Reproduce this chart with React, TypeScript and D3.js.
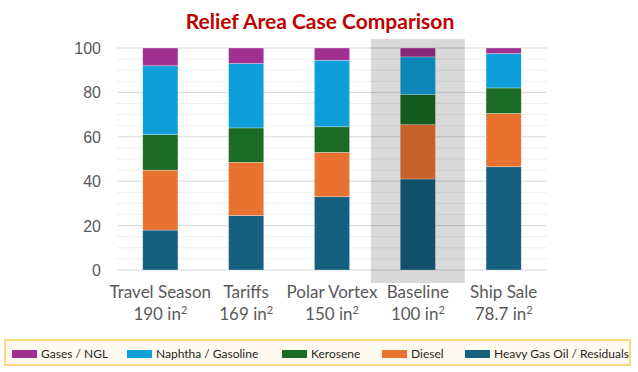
import { useEffect, useRef } from 'react'
import * as d3 from 'd3'

// scenario names and relief area (in²)
const cases = ['Travel Season', 'Tariffs', 'Polar Vortex', 'Baseline', 'Ship Sale']
const areas = ['190', '169', '150', '100', '78.7']
const highlight = 'Baseline'

// product yield shares (%), bottom to top
const heavy = [18, 24.5, 33, 41, 46.5]
const diesel = [27, 24, 20, 24.5, 24]
const kerosene = [16, 15.5, 11.5, 13.5, 11.5]
const naphtha = [31, 29, 30, 17, 15.5]
const gases = [8, 7, 5.5, 4, 2.5]

const yTicks = [0, 20, 40, 60, 80, 100]

const series = [
  { key: 'heavy', label: 'Heavy Gas Oil / Residuals', color: '#16607f', values: heavy },
  { key: 'diesel', label: 'Diesel', color: '#ea7231', values: diesel },
  { key: 'kerosene', label: 'Kerosene', color: '#1b6b24', values: kerosene },
  { key: 'naphtha', label: 'Naphtha / Gasoline', color: '#0f9fd8', values: naphtha },
  { key: 'gases', label: 'Gases / NGL', color: '#a0308f', values: gases },
]

const W = 638
const H = 372
const FONT = 'Lato, "Open Sans", sans-serif'

export default function App() {
  const ref = useRef<SVGSVGElement>(null)

  useEffect(() => {
    const svg = d3.select(ref.current)
    svg.selectAll('*').remove()

    const m = { left: 117, right: 91, top: 48, bottom: 102 }
    const x = d3.scaleBand().domain(cases).range([m.left, W - m.right]).paddingInner(0.59).paddingOuter(0.3)
    const y = d3.scaleLinear().domain([0, 100]).range([H - m.bottom, m.top])

    const rows = cases.map((c, i) => {
      const r: any = { case: c }
      series.forEach(s => { r[s.key] = s.values[i] })
      return r
    })
    const stacked = d3.stack().keys(series.map(s => s.key))(rows)

    svg.append('text')
      .attr('x', 320).attr('y', 29)
      .attr('text-anchor', 'middle')
      .style('font-family', FONT)
      .style('font-weight', 700)
      .style('font-size', '21px')
      .attr('fill', '#c00000')
      .text('Relief Area Case Comparison')

    // grid: minor every 5, major every 20
    const grid = svg.append('g')
    grid.selectAll('line')
      .data(d3.range(0, 101, 5))
      .enter().append('line')
      .attr('x1', m.left).attr('x2', W - m.right)
      .attr('y1', d => y(d)).attr('y2', d => y(d))
      .attr('stroke', d => d % 20 === 0 ? '#d9d9d9' : '#efefef')
      .attr('stroke-width', 1)

    svg.append('g').selectAll('text')
      .data(yTicks)
      .enter().append('text')
      .attr('x', 101).attr('y', d => y(d) + 6)
      .attr('text-anchor', 'end')
      .style('font-family', '"Liberation Sans", Arial, sans-serif')
      .style('font-size', '16px')
      .attr('fill', '#595959')
      .text(d => d)

    const bars = svg.append('g')
    stacked.forEach((layer, li) => {
      bars.selectAll(`rect.s${li}`)
        .data(layer)
        .enter().append('rect')
        .attr('x', d => x(d.data.case as string)!)
        .attr('width', x.bandwidth())
        .attr('y', d => y(d[1]))
        .attr('height', d => y(d[0]) - y(d[1]))
        .attr('fill', series[li].color)
        .attr('stroke', '#ffffff')
        .attr('stroke-opacity', 0.5)
        .attr('stroke-width', 0.6)
    })

    // highlighted case overlay
    const hx = x(highlight)! + x.bandwidth() / 2
    svg.append('rect')
      .attr('x', hx - 47).attr('width', 94)
      .attr('y', 39).attr('height', 244)
      .attr('fill', '#000').attr('fill-opacity', 0.15)

    const labels = svg.append('g')
      .style('font-family', FONT)
      .style('font-size', '17px')
      .attr('fill', '#595959')
    cases.forEach((c, i) => {
      const cx = x(c)! + x.bandwidth() / 2
      labels.append('text').attr('x', cx).attr('y', 298).attr('text-anchor', 'middle').text(c)
      const t = labels.append('text').attr('x', cx).attr('y', 320).attr('text-anchor', 'middle')
      t.append('tspan').text(`${areas[i]} in`)
      t.append('tspan').attr('dy', -6).style('font-size', '11px').text('2')
    })

    // legend
    const lg = svg.append('g')
    lg.append('rect')
      .attr('x', 5).attr('y', 340).attr('width', 625).attr('height', 25)
      .attr('fill', '#fffaef').attr('stroke', '#fcd97c').attr('stroke-width', 2)
    const legendX = [12, 127, 282, 382, 465]
    const order = [...series].reverse()
    order.forEach((s, i) => {
      lg.append('rect')
        .attr('x', legendX[i]).attr('y', 350).attr('width', 25).attr('height', 8)
        .attr('fill', s.color)
      lg.append('text')
        .attr('x', legendX[i] + 29).attr('y', 358)
        .style('font-family', FONT)
        .style('font-size', '12px')
        .attr('fill', '#262626')
        .text(s.label)
    })
  }, [])

  return <svg ref={ref} width={W} height={H} style={{ display: 'block', position: 'absolute', left: 0, top: 0 }} />
}
